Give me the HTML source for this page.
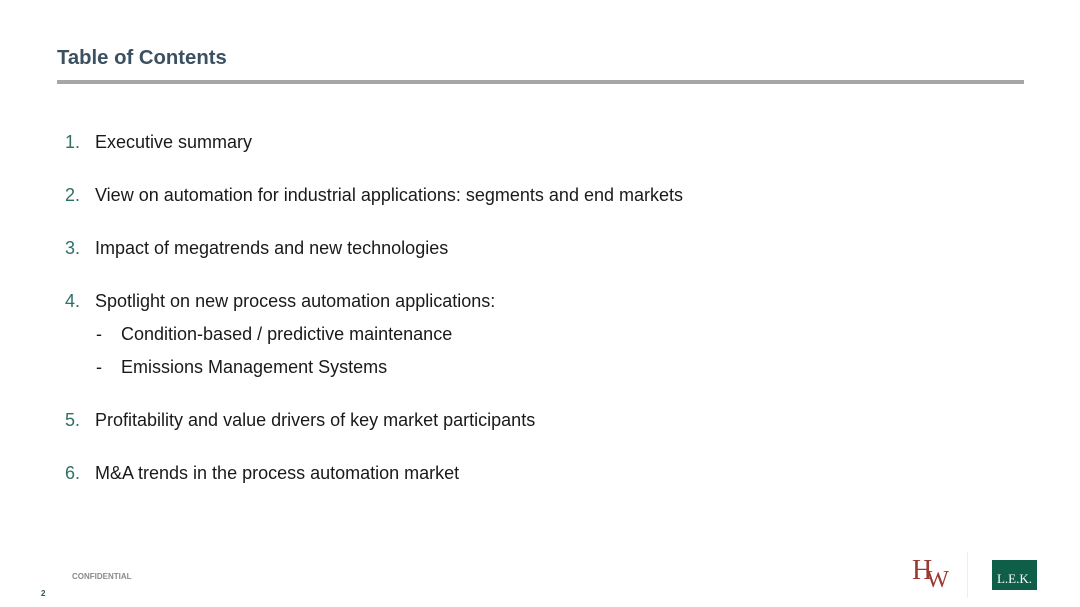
<!DOCTYPE html>
<html><head><style>
body{margin:0;width:1080px;height:607px;background:#fff;position:relative;overflow:hidden;font-family:"Liberation Sans",Arial,sans-serif}
.t{position:absolute;left:57px;top:47px;font-size:20.3px;font-weight:bold;color:#3b5060}
.rule{position:absolute;left:57px;top:80px;width:967px;height:4px;background:#a6a6a6}
.it{position:absolute;font-size:18px;color:#1a1a1a;white-space:nowrap;line-height:20px}
.n{position:absolute;left:65px;color:#2f7066}
.x{position:absolute;left:95px}
.d{position:absolute;left:96px}
.s{position:absolute;left:121px}
</style></head><body>
<div class="t">Table of Contents</div>
<div class="rule"></div>
<div class="it" style="top:132px;width:100%"><span class="n">1.</span><span class="x">Executive summary</span></div>
<div class="it" style="top:185px;width:100%"><span class="n">2.</span><span class="x">View on automation for industrial applications: segments and end markets</span></div>
<div class="it" style="top:238px;width:100%"><span class="n">3.</span><span class="x">Impact of megatrends and new technologies</span></div>
<div class="it" style="top:291px;width:100%"><span class="n">4.</span><span class="x">Spotlight on new process automation applications:</span></div>
<div class="it" style="top:324px;width:100%"><span class="d">-</span><span class="s">Condition-based / predictive maintenance</span></div>
<div class="it" style="top:357px;width:100%"><span class="d">-</span><span class="s">Emissions Management Systems</span></div>
<div class="it" style="top:410px;width:100%"><span class="n">5.</span><span class="x">Profitability and value drivers of key market participants</span></div>
<div class="it" style="top:463px;width:100%"><span class="n">6.</span><span class="x">M&amp;A trends in the process automation market</span></div>
<div style="position:absolute;left:72px;top:572px;font-size:8px;font-weight:bold;color:#8a8a8a">CONFIDENTIAL</div>
<div style="position:absolute;left:41px;top:589px;font-size:8px;font-weight:bold;color:#2f5060">2</div>
<div style="position:absolute;left:912px;top:556px;font-family:'Liberation Serif',serif;font-size:28px;color:#9b3a34;letter-spacing:-6px;line-height:30px">H<span style="font-size:24px;position:relative;top:8px">W</span></div>
<div style="position:absolute;left:967px;top:552px;width:1px;height:46px;background:#eee"></div>
<div style="position:absolute;left:992px;top:560px;width:45px;height:30px;background:#0f5e48;color:#fff;font-family:'Liberation Serif',serif;font-size:13px;text-align:center;line-height:38px">L.E.K.</div>
</body></html>
